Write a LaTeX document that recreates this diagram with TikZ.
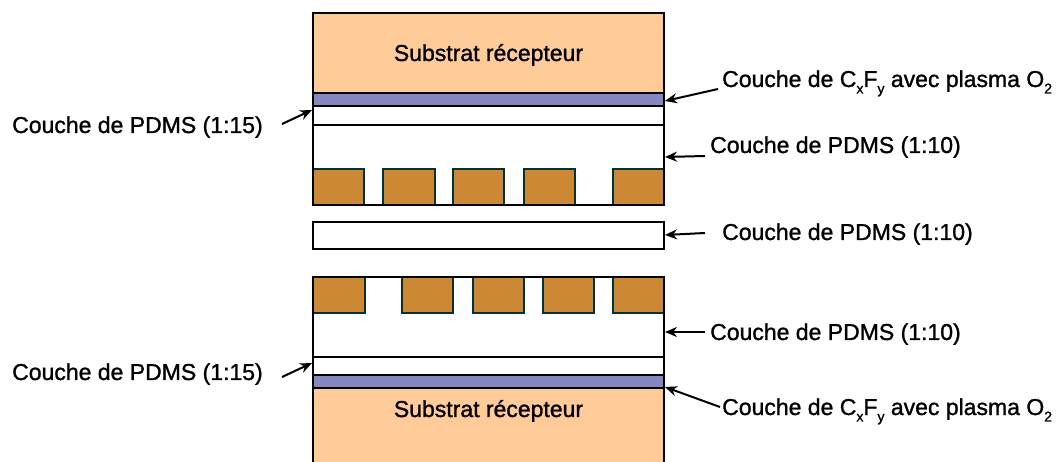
\documentclass[tikz,border=0pt]{standalone}
\usepackage{fontspec}
\setmainfont{Liberation Sans}[BoldFont=Liberation Sans, BoldFeatures={FakeBold=1.2}]
\usetikzlibrary{arrows.meta}
\definecolor{peach}{HTML}{FFCB99}
\definecolor{lilac}{HTML}{8686C0}
\definecolor{copper}{HTML}{CC8834}
\definecolor{tealedge}{HTML}{003333}
\newcommand{\lowtxt}[1]{\raisebox{-0.28em}{\fontsize{14}{14}\selectfont #1}}
\tikzset{
  layer/.style={draw=black, line width=2.4pt, anchor=north west, inner sep=0pt, outer sep=0pt},
  block/.style={draw=tealedge, fill=copper, line width=1.8pt, anchor=north west, inner sep=0pt, outer sep=0pt},
  txt/.style={inner sep=0pt, font=\fontsize{23}{26}\selectfont\bfseries},
  lbl/.style={txt, anchor=base west},
  arr/.style={line width=2pt, -{Stealth[length=12pt,width=10pt]}}
}
\begin{document}
\begin{tikzpicture}[x=1pt,y=-1pt]
\useasboundingbox (0,0) rectangle (1058,462);
% ---------- top stack ----------
\node[layer, fill=peach, minimum width=351pt, minimum height=80pt] (sub1) at (313,13) {};
\node[txt, anchor=base] (sub1t) at (488.5,61) {Substrat récepteur};
\node[layer, fill=lilac, minimum width=351pt, minimum height=13pt] (cf1) at (313,93) {};
\node[layer, fill=white, minimum width=351pt, minimum height=19pt] (p15a) at (313,106) {};
\node[layer, fill=white, minimum width=351pt, minimum height=80pt] (p10a) at (313,125) {};
\node[block, minimum width=51pt, minimum height=36pt] (ba1) at (313,169) {};
\node[block, minimum width=52pt, minimum height=36pt] (ba2) at (383,169) {};
\node[block, minimum width=51pt, minimum height=36pt] (ba3) at (453,169) {};
\node[block, minimum width=51pt, minimum height=36pt] (ba4) at (524,169) {};
\node[block, minimum width=51pt, minimum height=36pt] (ba5) at (613,169) {};
\node[layer, minimum width=351pt, minimum height=80pt] (p10aframe) at (313,125) {};
% ---------- middle layer ----------
\node[layer, fill=white, minimum width=351pt, minimum height=27pt] (p10m) at (313,222) {};
% ---------- bottom stack ----------
\node[layer, fill=white, minimum width=351pt, minimum height=80pt] (p10b) at (313,277) {};
\node[block, minimum width=52pt, minimum height=36pt] (bb1) at (313,277) {};
\node[block, minimum width=51pt, minimum height=36pt] (bb2) at (402,277) {};
\node[block, minimum width=51pt, minimum height=36pt] (bb3) at (473,277) {};
\node[block, minimum width=51pt, minimum height=36pt] (bb4) at (543,277) {};
\node[block, minimum width=51pt, minimum height=36pt] (bb5) at (613,277) {};
\node[layer, minimum width=351pt, minimum height=80pt] (p10bframe) at (313,277) {};
\node[layer, fill=white, minimum width=351pt, minimum height=18pt] (p15b) at (313,357) {};
\node[layer, fill=lilac, minimum width=351pt, minimum height=13pt] (cf2) at (313,375) {};
\node[layer, fill=peach, minimum width=351pt, minimum height=85pt] (sub2) at (313,388) {};
\node[txt, anchor=base] (sub2t) at (488.5,417) {Substrat récepteur};
% ---------- labels ----------
\node[lbl] (l1) at (722,87) {Couche de C\lowtxt{x}F\lowtxt{y} avec plasma O\lowtxt{2}};
\node[lbl] (l2) at (710,153) {Couche de PDMS (1:10)};
\node[lbl] (l3) at (722,240) {Couche de PDMS (1:10)};
\node[lbl] (l4) at (710,340) {Couche de PDMS (1:10)};
\node[lbl] (l5) at (722,415) {Couche de C\lowtxt{x}F\lowtxt{y} avec plasma O\lowtxt{2}};
\node[lbl] (l6) at (12,133) {Couche de PDMS (1:15)};
\node[lbl] (l7) at (12,380) {Couche de PDMS (1:15)};
% ---------- arrow tails / heads ----------
\coordinate (t1) at (718,89);  \coordinate (h1) at (665,101);
\coordinate (t2) at (705,156); \coordinate (h2) at (665,157);
\coordinate (t3) at (705,233); \coordinate (h3) at (665,235);
\coordinate (t4) at (705,332); \coordinate (h4) at (665,332);
\coordinate (t5) at (720,407); \coordinate (h5) at (665,387);
\coordinate (t6) at (282,124); \coordinate (h6) at (312,110);
\coordinate (t7) at (282,377); \coordinate (h7) at (312,363);
\draw[arr] (t1) -- (h1);
\draw[arr] (t2) -- (h2);
\draw[arr] (t3) -- (h3);
\draw[arr] (t4) -- (h4);
\draw[arr] (t5) -- (h5);
\draw[arr] (t6) -- (h6);
\draw[arr] (t7) -- (h7);
\end{tikzpicture}
\end{document}
